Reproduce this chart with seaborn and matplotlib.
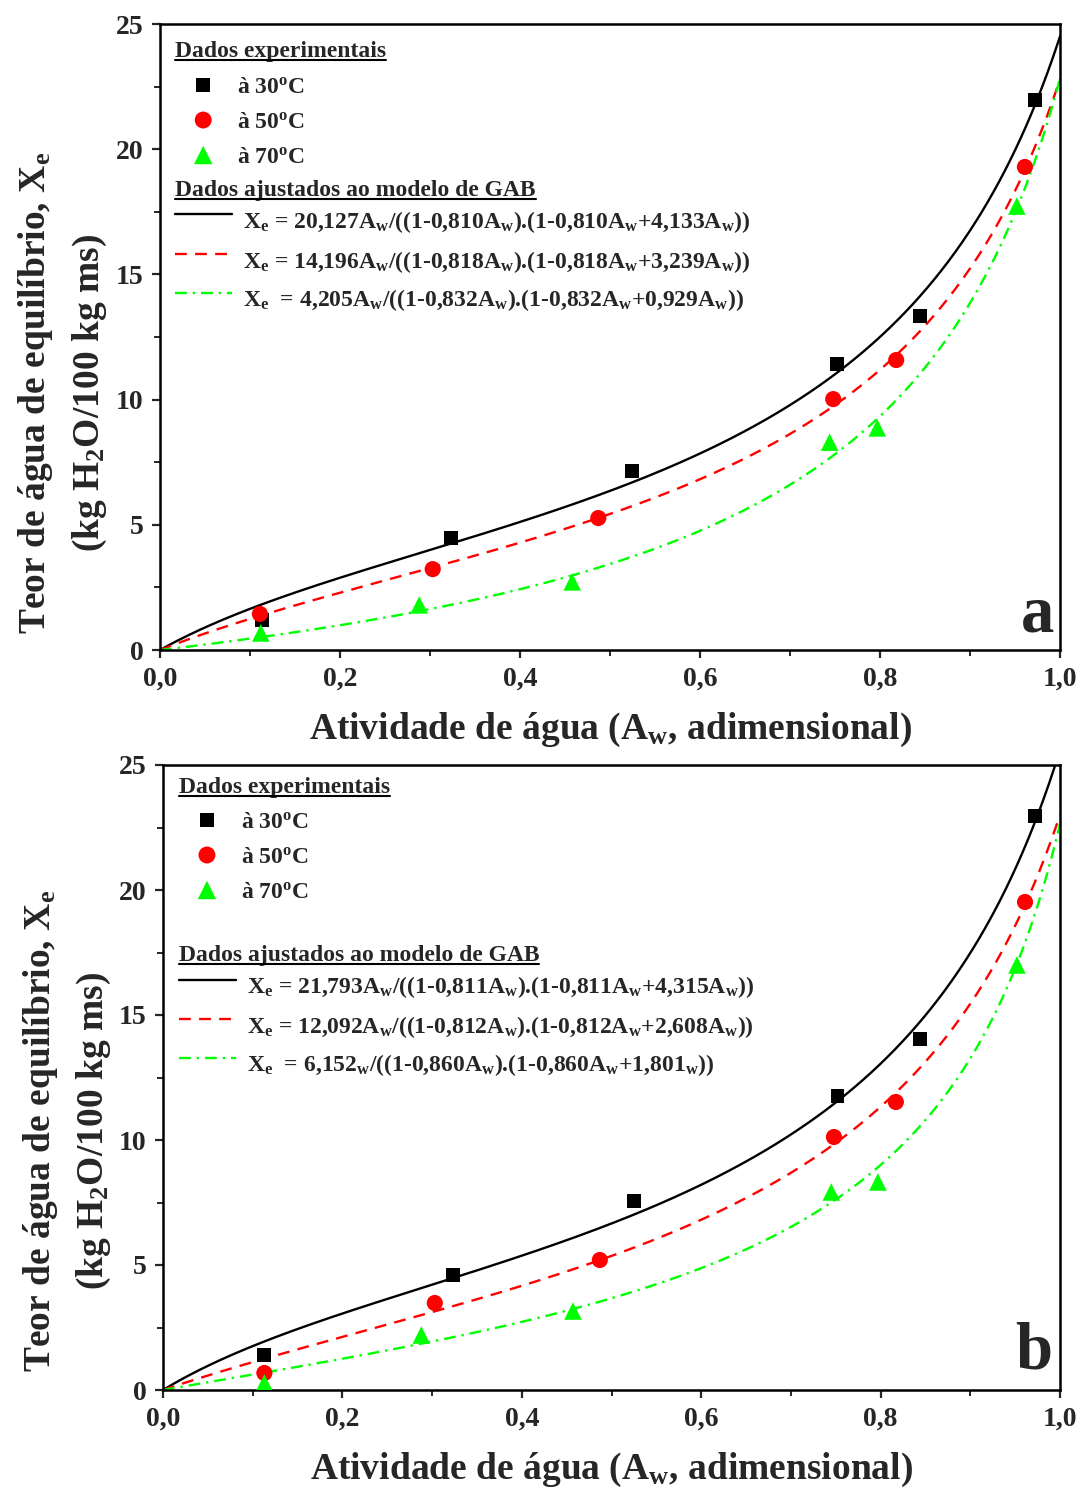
import numpy as np
import pandas as pd
import matplotlib
matplotlib.use("Agg")
import matplotlib.pyplot as plt
import seaborn as sns
from matplotlib.ticker import MultipleLocator, FuncFormatter
from matplotlib.lines import Line2D

# ---------------- data ----------------
temps = ["30", "50", "70"]

# panel a: experimental points
aw_a_30 = [0.113, 0.323, 0.524, 0.752, 0.844, 0.972]
xe_a_30 = [1.20, 4.47, 7.15, 11.42, 13.34, 21.96]
aw_a_50 = [0.111, 0.303, 0.487, 0.748, 0.818, 0.961]
xe_a_50 = [1.44, 3.23, 5.27, 10.02, 11.58, 19.29]
aw_a_70 = [0.112, 0.288, 0.458, 0.744, 0.797, 0.952]
xe_a_70 = [0.68, 1.80, 2.72, 8.30, 8.87, 17.73]

# panel b: experimental points
aw_b_30 = [0.113, 0.323, 0.525, 0.752, 0.844, 0.972]
xe_b_30 = [1.40, 4.60, 7.56, 11.76, 14.04, 22.96]
aw_b_50 = [0.113, 0.303, 0.487, 0.748, 0.817, 0.961]
xe_b_50 = [0.68, 3.48, 5.20, 10.12, 11.52, 19.52]
aw_b_70 = [0.113, 0.288, 0.457, 0.745, 0.797, 0.952]
xe_b_70 = [0.28, 2.20, 3.16, 7.92, 8.32, 17.00]

# GAB parameters: Xe = A*Aw / ((1-K*Aw)*(1-K*Aw+B*Aw))
gab_a_A = [20.127, 14.196, 4.205]
gab_a_K = [0.810, 0.818, 0.832]
gab_a_B = [4.133, 3.239, 0.929]
gab_b_A = [21.793, 12.092, 6.152]
gab_b_K = [0.811, 0.812, 0.860]
gab_b_B = [4.315, 2.608, 1.801]

labels_a = [
    r"X$_\mathrm{e}$ = 20,127A$_\mathrm{w}$/((1-0,810A$_\mathrm{w}$).(1-0,810A$_\mathrm{w}$+4,133A$_\mathrm{w}$))",
    r"X$_\mathrm{e}$ = 14,196A$_\mathrm{w}$/((1-0,818A$_\mathrm{w}$).(1-0,818A$_\mathrm{w}$+3,239A$_\mathrm{w}$))",
    r"X$_\mathrm{e}$  = 4,205A$_\mathrm{w}$/((1-0,832A$_\mathrm{w}$).(1-0,832A$_\mathrm{w}$+0,929A$_\mathrm{w}$))",
]
labels_b = [
    r"X$_\mathrm{e}$ = 21,793A$_\mathrm{w}$/((1-0,811A$_\mathrm{w}$).(1-0,811A$_\mathrm{w}$+4,315A$_\mathrm{w}$))",
    r"X$_\mathrm{e}$ = 12,092A$_\mathrm{w}$/((1-0,812A$_\mathrm{w}$).(1-0,812A$_\mathrm{w}$+2,608A$_\mathrm{w}$))",
    r"X$_\mathrm{e}$  = 6,152$_\mathrm{w}$/((1-0,860A$_\mathrm{w}$).(1-0,860A$_\mathrm{w}$+1,801$_\mathrm{w}$))",
]

# ---------------- style ----------------
sns.set_theme(style="ticks")
plt.rcParams["font.family"] = ["Liberation Serif", "DejaVu Serif"]
plt.rcParams["font.weight"] = "bold"
plt.rcParams["mathtext.fontset"] = "custom"
plt.rcParams["mathtext.rm"] = "Liberation Serif:bold"
plt.rcParams["mathtext.it"] = "Liberation Serif:bold"
plt.rcParams["mathtext.bf"] = "Liberation Serif:bold"

colors = ["#000000", "#ff0000", "#00ff00"]
markers = ["s", "o", "^"]
msizes = [100, 135, 160]
styles = ["-", (0, (5, 3.5)), (0, (5, 2.5, 1, 2.5))]

fig = plt.figure(figsize=(10.8, 14.97), dpi=100)
ax_a = fig.add_axes([160 / 1080, 1 - 650 / 1497, 900 / 1080, 626 / 1497])
ax_b = fig.add_axes([163 / 1080, 1 - 1390 / 1497, 897 / 1080, 625 / 1497])

aw_grid = np.linspace(0.0, 1.0, 500)


def gab(aw, A, K, B):
    return A * aw / ((1 - K * aw) * (1 - K * aw + B * aw))


underline_targets = []


def draw_panel(ax, pts, pars, labels, letter, leg):
    for i in range(3):
        A, K, B = pars[0][i], pars[1][i], pars[2][i]
        df = pd.DataFrame({"aw": aw_grid, "xe": gab(aw_grid, A, K, B)})
        sns.lineplot(data=df, x="aw", y="xe", color=colors[i], linewidth=1.7,
                     linestyle=styles[i], ax=ax, estimator=None)
    for i in range(3):
        sns.scatterplot(x=pts[i][0], y=pts[i][1], marker=markers[i], s=msizes[i],
                        color=colors[i], edgecolor="none", linewidth=0, ax=ax,
                        zorder=5)

    ax.set_xlim(0, 1.0)
    ax.set_ylim(0, 25)
    ax.xaxis.set_major_locator(MultipleLocator(0.2))
    ax.xaxis.set_minor_locator(MultipleLocator(0.1))
    ax.yaxis.set_major_locator(MultipleLocator(5))
    ax.yaxis.set_minor_locator(MultipleLocator(2.5))
    ax.xaxis.set_major_formatter(FuncFormatter(lambda v, p: f"{v:.1f}".replace(".", ",")))
    ax.yaxis.set_major_formatter(FuncFormatter(lambda v, p: f"{int(round(v))}"))
    ax.tick_params(which="major", direction="out", length=6, width=1.6,
                   labelsize=20, pad=6)
    ax.tick_params(which="minor", direction="out", length=4, width=1.4)
    for lab in ax.get_xticklabels() + ax.get_yticklabels():
        lab.set_fontweight("bold")
    for sp in ax.spines.values():
        sp.set_linewidth(1.8)
        sp.set_visible(True)
        sp.set_color("black")

    ax.set_xlabel(r"Atividade de água (A$_\mathrm{w}$, adimensional)",
                  fontsize=27, fontweight="bold", labelpad=14)
    ax.set_ylabel("")
    ax.text(leg["ylab_x"], leg["ylab_y"],
            "Teor de água de equilíbrio, X$_\\mathrm{e}$\n(kg H$_\\mathrm{2}$O/100 kg ms)",
            transform=ax.transAxes, rotation=90, ha="center", va="center",
            multialignment="center", fontsize=27, fontweight="bold",
            linespacing=1.55)

    ax.text(leg["letter_x"], leg["letter_y"], letter, transform=ax.transAxes,
            ha="right", va="baseline", fontsize=48, fontweight="bold")

    # legend block
    tr = ax.transAxes
    fs = 17
    h1 = ax.text(leg["hx"], leg["h1y"], "Dados experimentais", transform=tr,
                 ha="left", va="center_baseline", fontsize=fs, fontweight="bold")
    underline_targets.append(h1)
    for i in range(3):
        y = leg["my"][i]
        ax.scatter([leg["mx"]], [y], marker=markers[i], s=msizes[i] * 1.1,
                   color=colors[i], edgecolor="none", transform=tr, clip_on=False,
                   zorder=6)
        ax.text(leg["mtx"], y, "à " + temps[i] + "$^\\mathrm{o}$C", transform=tr,
                ha="left", va="center_baseline", fontsize=fs, fontweight="bold")
    h2 = ax.text(leg["hx"], leg["h2y"], "Dados ajustados ao modelo de GAB",
                 transform=tr, ha="left", va="center_baseline", fontsize=fs,
                 fontweight="bold")
    underline_targets.append(h2)
    for i in range(3):
        y = leg["ly"][i]
        ax.add_line(Line2D([leg["lx0"], leg["lx1"]], [y + 0.006, y + 0.006],
                           transform=tr, color=colors[i], linewidth=1.7,
                           linestyle=styles[i], clip_on=False))
        ax.text(leg["ltx"], y, labels[i], transform=tr, ha="left",
                va="center_baseline", fontsize=fs, fontweight="bold")


leg_a = dict(hx=0.0167, h1y=0.960, mx=0.048, mtx=0.0856,
             my=[0.9026, 0.8466, 0.7907], h2y=0.738,
             lx0=0.0167, lx1=0.080, ltx=0.0922, ly=[0.690, 0.626, 0.564],
             letter_x=0.994, letter_y=0.029, ylab_x=-0.108, ylab_y=0.41)
leg_b = dict(hx=0.0178, h1y=0.968, mx=0.049, mtx=0.087,
             my=[0.912, 0.856, 0.800], h2y=0.699,
             lx0=0.0178, lx1=0.0814, ltx=0.0936, ly=[0.6496, 0.587, 0.525],
             letter_x=0.991, letter_y=0.035, ylab_x=-0.107, ylab_y=0.414)

pts_a = [(aw_a_30, xe_a_30), (aw_a_50, xe_a_50), (aw_a_70, xe_a_70)]
pts_b = [(aw_b_30, xe_b_30), (aw_b_50, xe_b_50), (aw_b_70, xe_b_70)]

draw_panel(ax_a, pts_a, (gab_a_A, gab_a_K, gab_a_B), labels_a, "a", leg_a)
draw_panel(ax_b, pts_b, (gab_b_A, gab_b_K, gab_b_B), labels_b, "b", leg_b)

# underline the legend headings
fig.canvas.draw()
renderer = fig.canvas.get_renderer()
inv = fig.transFigure.inverted()
for t in underline_targets:
    bb = t.get_window_extent(renderer)
    (x0, y0), (x1, _) = inv.transform([(bb.x0, bb.y0 + 2), (bb.x1, bb.y0 + 2)])
    fig.add_artist(Line2D([x0, x1], [y0, y0], transform=fig.transFigure,
                          color="black", linewidth=1.5))

fig.savefig("out.png", dpi=100)
